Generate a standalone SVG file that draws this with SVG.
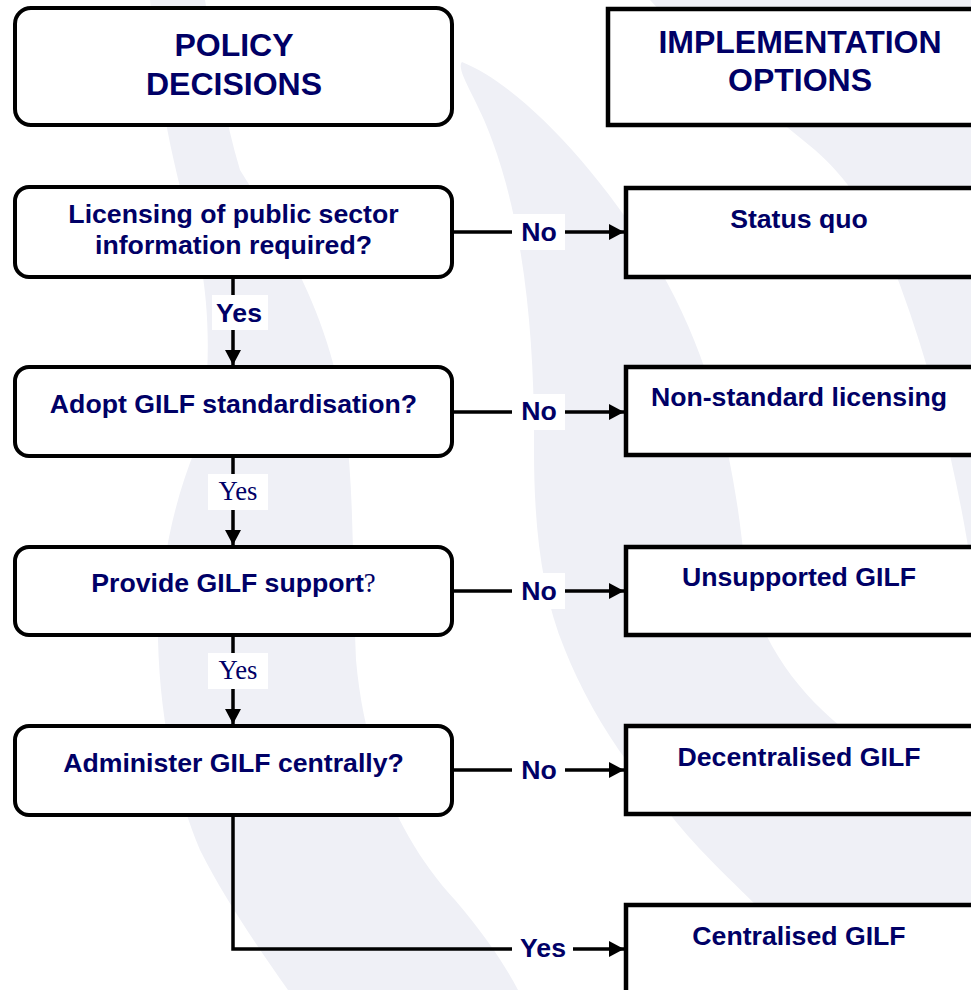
<svg xmlns="http://www.w3.org/2000/svg" width="971" height="990" viewBox="0 0 971 990">
<defs>
<style>
.bg{fill:#eff0f6;stroke:none}
.dec{fill:#ffffff;stroke:#000000;stroke-width:4}
.opt{fill:#ffffff;stroke:#000000;stroke-width:4.5}
.t{font-family:"Liberation Sans",Arial,sans-serif;font-weight:bold;fill:#000066;text-anchor:middle}
.h{font-size:32px}
.n{font-size:26.67px}
.s{font-family:"Liberation Serif","Times New Roman",serif;font-weight:normal;fill:#000066}
.ser{font-family:"Liberation Serif","Times New Roman",serif;font-size:26.67px;fill:#000066;text-anchor:middle}
.ln{fill:none;stroke:#000000;stroke-width:3.5}
.lb{fill:#ffffff;stroke:none}
</style>
<marker id="ah" viewBox="0 0 15 16" refX="15" refY="8" markerWidth="15" markerHeight="16" markerUnits="userSpaceOnUse" orient="auto">
<path d="M0,0 L15,8 L0,16 Z" fill="#000000"/>
</marker>
</defs>
<rect width="971" height="990" fill="#ffffff"/>
<g id="background">
<path class="bg" d="M462,62 C520,85 600,170 660,270 C712,360 735,460 745,570 C765,680 850,750 971,805 L971,990 L835,990 C770,910 700,860 660,800 C620,760 585,700 565,650 C540,590 534,520 534,450 C535,330 522,220 492,140 C478,100 455,70 462,62 Z"/>
<path class="bg" d="M150,0 L205,0 C215,60 225,120 240,170 C290,250 330,320 345,420 C355,500 352,580 356,660 C365,760 400,840 455,900 C485,935 505,965 518,990 L288,990 C260,950 225,900 200,850 C175,790 160,720 158,640 C160,560 175,500 195,450 C210,400 212,320 200,260 C180,190 160,120 150,0 Z"/>
<path class="bg" d="M650,0 L971,0 L971,565 C958,480 935,380 900,285 C880,230 855,185 815,150 C760,105 700,55 650,0 Z"/>
</g>
<g id="connectors">
<line class="ln" x1="452" y1="232" x2="624" y2="232" marker-end="url(#ah)"/>
<line class="ln" x1="452" y1="412" x2="624" y2="412" marker-end="url(#ah)"/>
<line class="ln" x1="452" y1="591" x2="624" y2="591" marker-end="url(#ah)"/>
<line class="ln" x1="452" y1="770" x2="624" y2="770" marker-end="url(#ah)"/>
<line class="ln" x1="233" y1="277" x2="233" y2="365" marker-end="url(#ah)"/>
<line class="ln" x1="233" y1="456" x2="233" y2="545" marker-end="url(#ah)"/>
<line class="ln" x1="233" y1="635" x2="233" y2="724" marker-end="url(#ah)"/>
<path class="ln" d="M233,815 V949 H624" marker-end="url(#ah)"/>
<rect class="lb" x="512" y="214" width="53" height="36"/>
<text class="t n" x="539" y="240.5">No</text>
<rect class="lb" x="512" y="394" width="53" height="36"/>
<text class="t n" x="539" y="420">No</text>
<rect class="lb" x="512" y="573" width="53" height="36"/>
<text class="t n" x="539" y="599.5">No</text>
<rect class="lb" x="512" y="752" width="53" height="36"/>
<text class="t n" x="539" y="778.5">No</text>
<rect class="lb" x="212" y="295" width="56" height="35"/>
<text class="t n" x="239" y="321.5">Yes</text>
<rect class="lb" x="208" y="474" width="60" height="36"/>
<text class="ser" x="238" y="500">Yes</text>
<rect class="lb" x="208" y="653" width="60" height="36"/>
<text class="ser" x="238" y="679">Yes</text>
<rect class="lb" x="512" y="930" width="61" height="36"/>
<text class="t n" x="543" y="957">Yes</text>
</g>
<g id="policy-decisions">
<rect class="dec" x="15" y="8" width="437" height="117" rx="16"/>
<text class="t h" x="234" y="55.5">POLICY</text>
<text class="t h" x="234" y="94.5">DECISIONS</text>
</g>
<g id="implementation-options">
<rect class="opt" x="608" y="9" width="370" height="116"/>
<text class="t h" x="800" y="52.5">IMPLEMENTATION</text>
<text class="t h" x="800" y="90.5">OPTIONS</text>
</g>
<g id="q-licensing">
<rect class="dec" x="15" y="187" width="437" height="90" rx="14"/>
<text class="t n" x="233.5" y="222.5">Licensing of public sector</text>
<text class="t n" x="233.5" y="254">information required?</text>
</g>
<g id="q-standardisation">
<rect class="dec" x="15" y="367" width="437" height="89" rx="14"/>
<text class="t n" x="233.5" y="412.5">Adopt GILF standardisation?</text>
</g>
<g id="q-support">
<rect class="dec" x="15" y="547" width="437" height="88" rx="14"/>
<text class="t n" x="233.5" y="592">Provide GILF support<tspan class="s">?</tspan></text>
</g>
<g id="q-central">
<rect class="dec" x="15" y="726" width="437" height="89" rx="14"/>
<text class="t n" x="233.5" y="771.5">Administer GILF centrally?</text>
</g>
<g id="o-status-quo">
<rect class="opt" x="626" y="188" width="350" height="89"/>
<text class="t n" x="799" y="227.5">Status quo</text>
</g>
<g id="o-non-standard">
<rect class="opt" x="626" y="367" width="350" height="88"/>
<text class="t n" x="799" y="406">Non-standard licensing</text>
</g>
<g id="o-unsupported">
<rect class="opt" x="626" y="547" width="350" height="88"/>
<text class="t n" x="799" y="586">Unsupported GILF</text>
</g>
<g id="o-decentralised">
<rect class="opt" x="626" y="726" width="350" height="88"/>
<text class="t n" x="799" y="765.5">Decentralised GILF</text>
</g>
<g id="o-centralised">
<rect class="opt" x="626" y="905" width="350" height="100"/>
<text class="t n" x="799" y="945">Centralised GILF</text>
</g>
</svg>
